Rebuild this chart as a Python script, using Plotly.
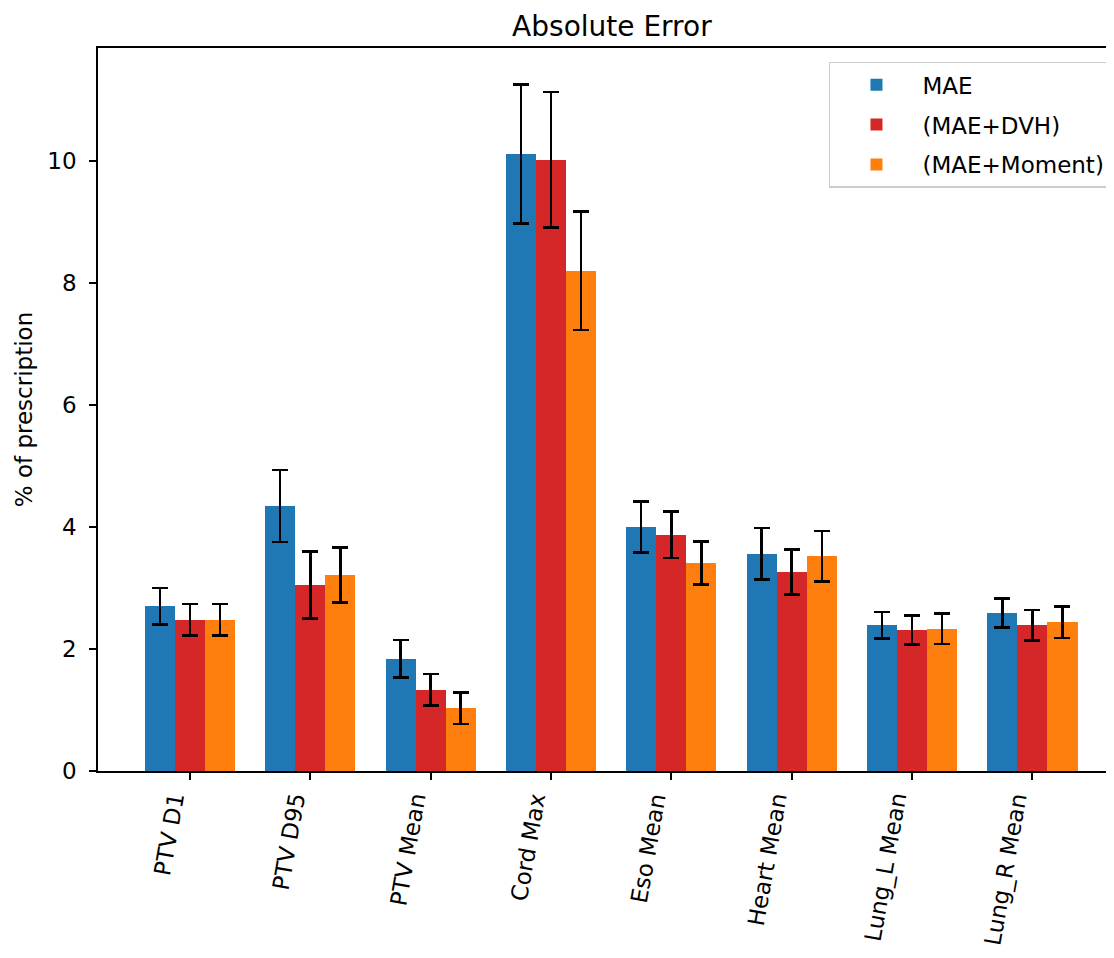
import plotly.graph_objects as go

categories = ["PTV D1", "PTV D95", "PTV Mean", "Cord Max", "Eso Mean",
              "Heart Mean", "Lung_L Mean", "Lung_R Mean"]
mae = [2.70, 4.34, 1.84, 10.11, 4.00, 3.56, 2.39, 2.59]
mae_err = [0.30, 0.59, 0.31, 1.14, 0.42, 0.42, 0.22, 0.24]
dvh = [2.48, 3.05, 1.33, 10.02, 3.87, 3.26, 2.31, 2.39]
dvh_err = [0.26, 0.55, 0.26, 1.11, 0.38, 0.37, 0.24, 0.25]
mom = [2.48, 3.21, 1.03, 8.20, 3.41, 3.52, 2.33, 2.44]
mom_err = [0.26, 0.45, 0.26, 0.97, 0.35, 0.41, 0.25, 0.26]
series_names = ["MAE", "(MAE+DVH)", "(MAE+Moment)"]
colors = ["#1f77b4", "#d62728", "#ff7f0e"]

width = 0.25
idx = list(range(len(categories)))
fig = go.Figure()
for k, (name, vals, errs, col) in enumerate(zip(series_names, [mae, dvh, mom],
                                                 [mae_err, dvh_err, mom_err], colors)):
    off = (k - 1) * width
    fig.add_trace(go.Bar(
        x=[i + off for i in idx], y=vals, width=width, name=name,
        legendgroup="g%d" % k,
        marker=dict(color=col, line=dict(width=0)),
        error_y=dict(type="data", array=errs, visible=True, color="black",
                     thickness=2.5, width=8),
    ))

# category labels, rotated and right-aligned to the tick like the original
for i, lab in zip(idx, categories):
    fig.add_annotation(x=i, xref="x", y=0, yref="paper", text=lab,
                       textangle=-80, xanchor="right", yanchor="top",
                       showarrow=False, yshift=-18, xshift=2,
                       font=dict(size=23, family="DejaVu Sans, sans-serif"))

font = "DejaVu Sans, sans-serif"
fig.update_layout(
    width=1106, height=950,
    margin=dict(l=90, r=1, t=40, b=187, autoexpand=False),
    paper_bgcolor="white", plot_bgcolor="white",
    font=dict(family=font, size=23, color="black"),
    title=dict(text="Absolute Error", x=0.546, xanchor="center", y=0.981,
               yanchor="middle", font=dict(size=28)),
    barmode="overlay",
    bargap=0,
    showlegend=True,
    legend=dict(x=0.998, xanchor="right", y=0.981, yanchor="top",
                bordercolor="#cccccc", borderwidth=1.5, bgcolor="rgba(255,255,255,0.8)",
                font=dict(size=23), itemwidth=82, tracegroupgap=7,
                traceorder="grouped"),
    xaxis=dict(tickmode="array", tickvals=idx, ticktext=[""] * len(idx),
               range=[-0.764, 7.67], showline=True, linecolor="black",
               linewidth=1.5, mirror=True, ticks="outside", ticklen=7, tickwidth=1.5,
               tickcolor="black", showgrid=False, zeroline=False,
               tickfont=dict(size=23)),
    yaxis=dict(range=[0, 11.85], tickvals=[0, 2, 4, 6, 8, 10], showline=True,
               linecolor="black", linewidth=1.5, mirror=True, ticks="outside",
               ticklen=7, tickwidth=1.5, tickcolor="black", showgrid=False,
               zeroline=False, tickfont=dict(size=23), ticklabelstandoff=8,
               title=dict(text="% of prescription", font=dict(size=23), standoff=8)),
)
fig.write_html("out.html")
